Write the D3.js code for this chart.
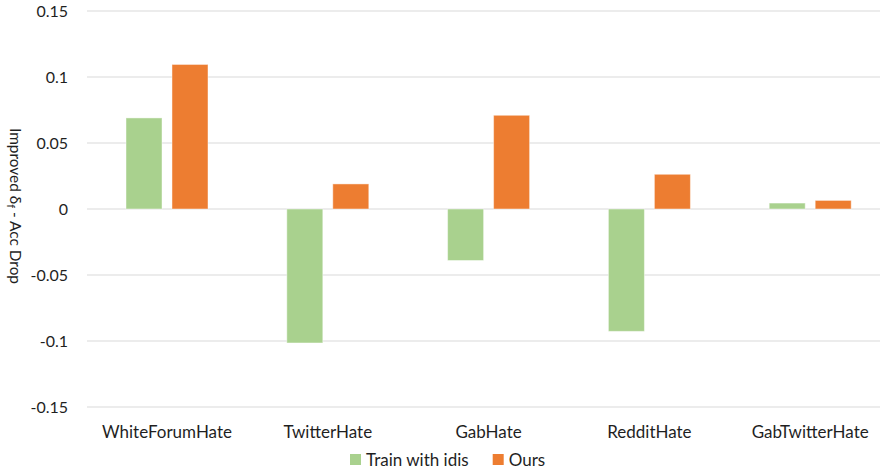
<!DOCTYPE html>
<html><head><meta charset="utf-8">
<script src="https://cdn.jsdelivr.net/npm/d3@7"></script>
<style>body{margin:0;background:#fff}svg{display:block}text{font-family:Lato,"Open Sans",sans-serif;fill:#1f1f1f}</style>
</head><body><svg id="c" width="880" height="473"></svg>
<script>
const categories = ["WhiteForumHate","TwitterHate","GabHate","RedditHate","GabTwitterHate"];
const seriesNames = ["Train with idis","Ours"];
const trainWithIdis = [0.069,-0.1015,-0.039,-0.0927,0.0045];
const ours = [0.1095,0.019,0.071,0.0263,0.0065];
const yTicks = [-0.15,-0.1,-0.05,0,0.05,0.1,0.15];
const colors = ["#A9D18E","#ED7D31"];

const svg = d3.select("#c");
const x = d3.scaleBand().domain(categories).range([86.6,890.6]).paddingInner(0).paddingOuter(0);
const groupW = 82;
const xs = d3.scaleBand().domain(seriesNames).range([0,groupW]).paddingInner(0.217).paddingOuter(0);
const y = d3.scaleLinear().domain([-0.15,0.15]).range([407,11]);

// gridlines
svg.append("g").selectAll("line").data(yTicks).join("line")
  .attr("x1",87).attr("x2",880)
  .attr("y1",d=>y(d)).attr("y2",d=>y(d))
  .attr("stroke","#d9d9d9").attr("stroke-width",1);

// y tick labels
const fmt = d => d===0 ? "0" : String(+d.toFixed(2));
svg.append("g").selectAll("text").data(yTicks).join("text")
  .attr("x",68).attr("y",d=>y(d)).attr("dy","0.35em")
  .attr("text-anchor","end").style("font-size","16px").text(fmt);

// bars
const data = categories.map((c,i)=>({cat:c, vals:[trainWithIdis[i], ours[i]]}));
const off = (x.bandwidth()-groupW)/2;
const g = svg.append("g");
data.forEach(d=>{
  d.vals.forEach((v,j)=>{
    g.append("rect")
      .attr("x", x(d.cat)+off+xs(seriesNames[j]))
      .attr("width", xs.bandwidth())
      .attr("y", Math.min(y(v),y(0)))
      .attr("height", Math.abs(y(v)-y(0)))
      .attr("fill", colors[j])
      .attr("stroke","#ffffff").attr("stroke-opacity",0.45).attr("stroke-width",1);
  });
});

// category labels
svg.append("g").selectAll("text").data(categories).join("text")
  .attr("x",d=>x(d)+x.bandwidth()/2).attr("y",438)
  .attr("text-anchor","middle").style("font-size","17px").text(d=>d);

// y axis title
const yt = svg.append("text")
  .attr("transform","translate(10,206) rotate(90)")
  .attr("text-anchor","middle").style("font-size","15.4px");
yt.append("tspan").text("Improved δ");
yt.append("tspan").attr("baseline-shift","-25%").style("font-size","11px").text("f");
yt.append("tspan").text(" - Acc Drop");

// legend
const legX = [350, 492.7];
const lg = svg.append("g");
seriesNames.forEach((s,i)=>{
  lg.append("rect").attr("x",legX[i]).attr("y",454).attr("width",11).attr("height",11).attr("fill",colors[i]);
  lg.append("text").attr("x",legX[i]+16).attr("y",466).style("font-size","17px").text(s);
});
</script></body></html>
